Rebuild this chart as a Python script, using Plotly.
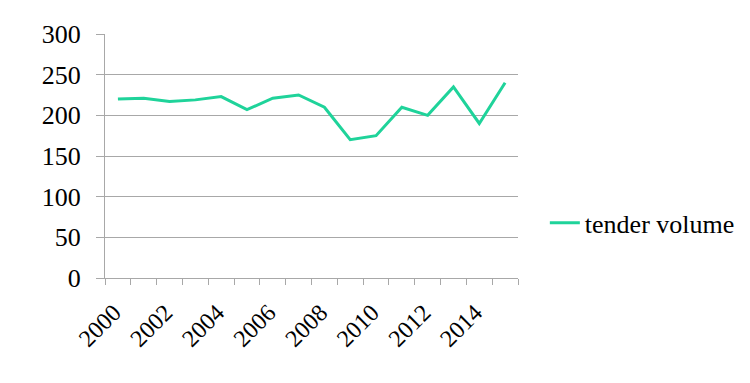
import plotly.graph_objects as go

years = [str(y) for y in range(2000, 2016)]
tender_volume = [220, 221, 217, 219, 223, 207, 221, 225, 210, 170, 175, 210, 200, 235, 190, 240]
x_tick_labels = [y if int(y) % 2 == 0 else "" for y in years]
y_tick_values = [0, 50, 100, 150, 200, 250, 300]
series_name = "tender volume"

SERIF = "Liberation Serif"
GREEN = "#1fd39a"
GRAY = "#a8a8a8"

fig = go.Figure()
fig.add_trace(go.Scatter(
    x=years, y=tender_volume, mode="lines", name=series_name,
    line=dict(color=GREEN, width=3), showlegend=True,
))

fig.update_layout(
    template="none",
    width=750, height=383,
    margin=dict(l=105, r=232, t=34, b=105, autoexpand=False),
    paper_bgcolor="white", plot_bgcolor="white",
    showlegend=True,
    legend=dict(x=1.065, y=0.226, xanchor="left", yanchor="middle",
                font=dict(family=SERIF, size=26, color="black"),
                bgcolor="rgba(0,0,0,0)"),
)
fig.update_xaxes(
    type="category", tickmode="array", tickvals=years, ticktext=x_tick_labels,
    range=[-0.5, 15.5], automargin=False,
    tickangle=-45, tickson="boundaries", ticks="outside", ticklen=6,
    ticklabelstandoff=10, ticklabelshift=-4,
    tickcolor=GRAY, showline=True, linecolor=GRAY, linewidth=1,
    showgrid=False, zeroline=False,
    tickfont=dict(family=SERIF, size=24, color="black"),
)
fig.update_yaxes(
    range=[0, 300], tickmode="array", tickvals=y_tick_values, automargin=False,
    showgrid=True, gridcolor=GRAY, gridwidth=1,
    ticks="outside", ticklen=8, tickcolor=GRAY, ticklabelstandoff=10,
    showline=True, linecolor=GRAY, linewidth=1, zeroline=False,
    tickfont=dict(family=SERIF, size=26, color="black"),
)

fig.write_html("out.html", post_script="document.body.style.margin='0';",
               config={"displayModeBar": False})
